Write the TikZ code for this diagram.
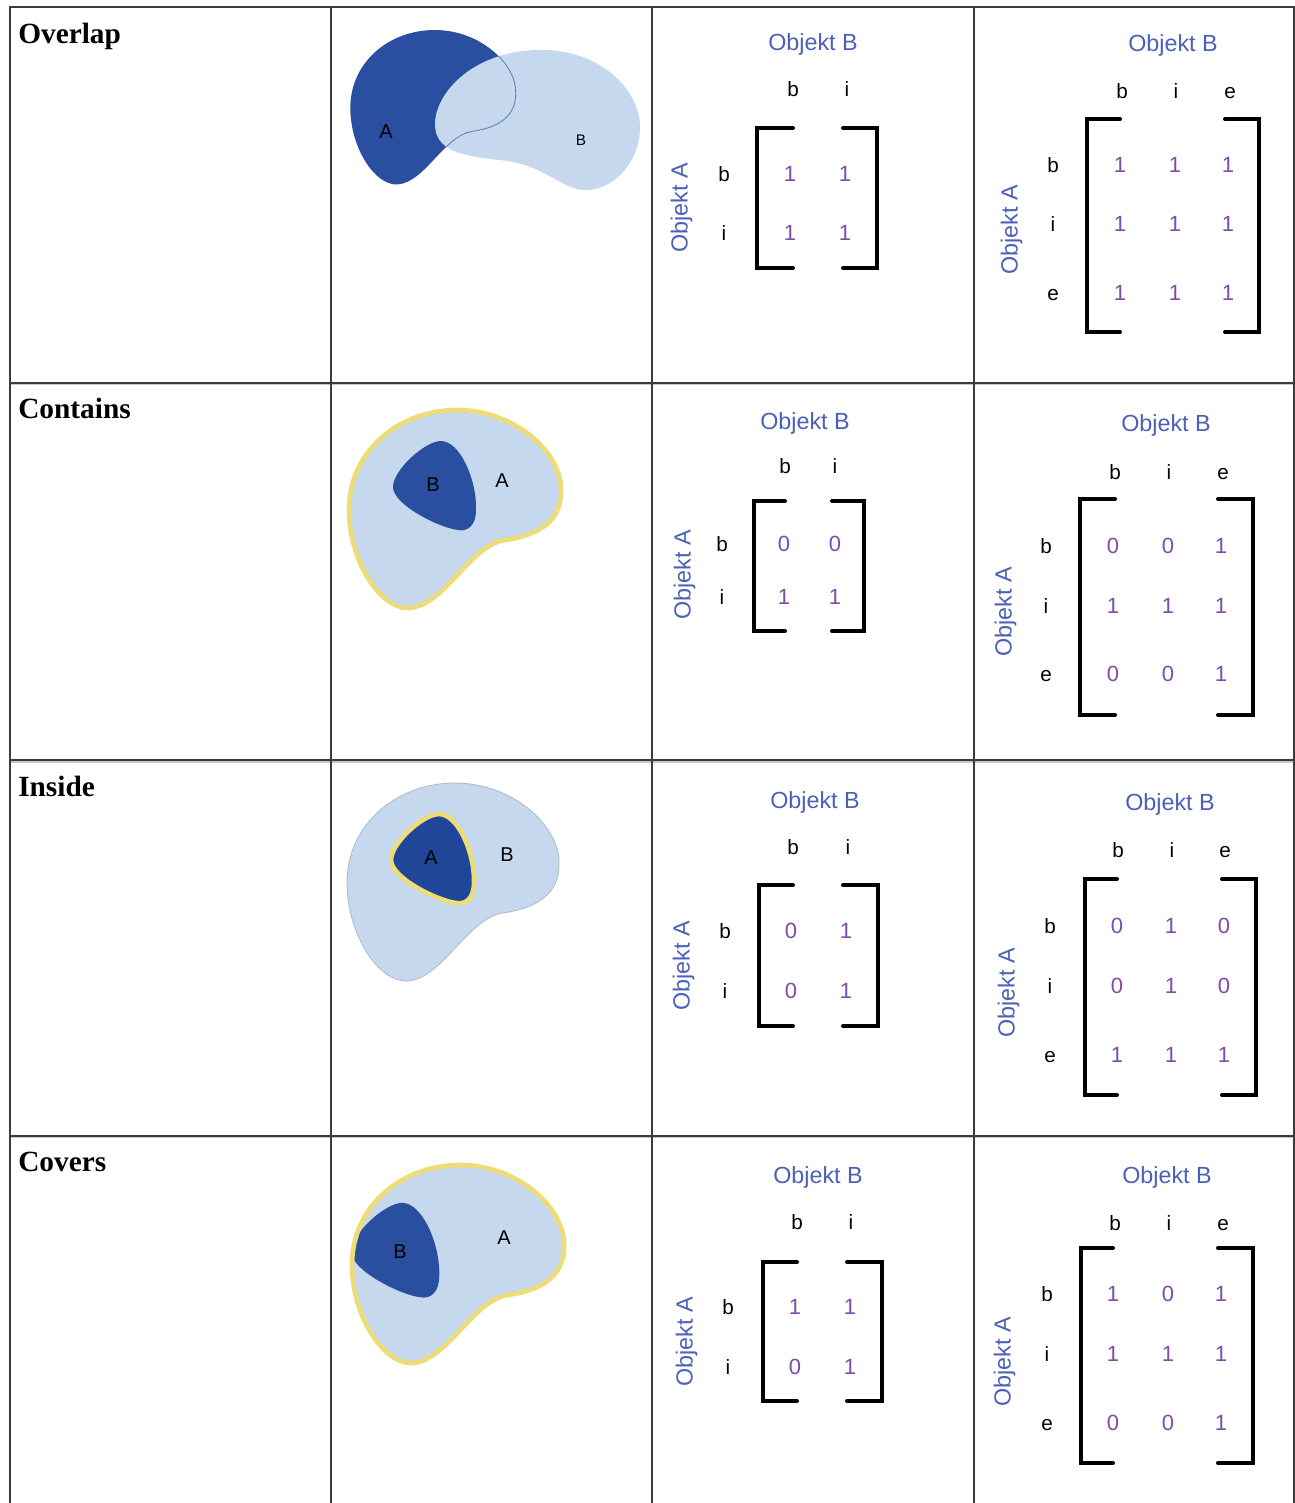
\documentclass[tikz,border=0pt]{standalone}
\usepackage{fontspec}
\setmainfont{Liberation Serif}
\setsansfont{Liberation Sans}
\definecolor{darkblob}{HTML}{2B4FA0}
\definecolor{deepblob}{HTML}{1F4699}
\definecolor{lightblob}{HTML}{C6D8EE}
\definecolor{rimyellow}{HTML}{EEDC78}
\definecolor{thinrim}{HTML}{A9BDC6}
\definecolor{innerline}{HTML}{5A78B8}
\definecolor{objblue}{HTML}{4D60B8}
\definecolor{valpurple}{HTML}{7E4CAB}
\definecolor{gridgray}{HTML}{3C3C3C}
\definecolor{gridlight}{HTML}{C8C8C8}

% kidney-shaped region, centred roughly on the origin (units are pixels)
\def\blobpath{(-106,0) .. controls (-106,-60) and (-55,-100) .. (2,-100)
  .. controls (62,-100) and (107,-55) .. (106,-20)
  .. controls (107,10) and (85,25) .. (50,30)
  .. controls (15,35) and (-10,95) .. (-45,98)
  .. controls (-75,100) and (-106,50) .. cycle}
% rounded triangle that sits inside the kidney
\def\innerpath{(-62,-23) .. controls (-62,-40) and (-30,-69) .. (-14,-69)
  .. controls (5,-69) and (22,-30) .. (21,0)
  .. controls (21,15) and (13,22) .. (3,20)
  .. controls (-15,18) and (-62,-5) .. cycle}
% horizontal bean used for B in the overlap case
\def\beanpath{(435,124) .. controls (435,95) and (470,52) .. (537,50)
  .. controls (600,48) and (640,90) .. (640,127)
  .. controls (640,165) and (610,192) .. (583,190)
  .. controls (560,188) and (545,165) .. (500,160)
  .. controls (460,156) and (435,150) .. cycle}

\newcommand\brackets[6]{%
  \draw[brk] (#2,#3) -- (#1,#3) -- (#1,#4) -- (#2,#4);
  \draw[brk] (#6,#3) -- (#5,#3) -- (#5,#4) -- (#6,#4);}

\begin{document}
\begin{tikzpicture}[x=0.75pt,y=-0.75pt,
  rowlabel/.style={font=\bfseries\fontsize{22}{25}\selectfont, anchor=base west, inner sep=0pt},
  objlbl/.style={font=\sffamily\fontsize{17.5}{19}\selectfont, text=objblue, inner sep=0pt, text height=1em, text depth=0pt},
  hdr/.style={font=\sffamily\fontsize{15.5}{18}\selectfont, inner sep=0pt, text height=1em, text depth=0pt},
  val/.style={font=\sffamily\fontsize{16.5}{18}\selectfont, text=valpurple, inner sep=0pt, text height=1em, text depth=0pt},
  setlbl/.style={font=\sffamily\fontsize{15}{18}\selectfont, inner sep=0pt, text height=1em, text depth=0pt},
  brk/.style={line width=3pt, line cap=round, line join=miter},
  grid/.style={line width=1.5pt, gridgray},
  gridsoft/.style={line width=0.8pt, gridlight}]

\useasboundingbox (0,0) rectangle (1295,1503);
\fill[white] (0,0) rectangle (1295,1503);

% ---------- table rules ----------
\foreach \yy in {384.5,762,1137.5} \draw[gridsoft] (10,\yy) -- (1293,\yy);
\foreach \xx in {9.5,330.5,652,973.5,1293.5} \draw[grid] (\xx,6) -- (\xx,1503);
\foreach \yy in {6.5,382.5,760,1135.5} \draw[grid] (9,\yy) -- (1294,\yy);

% ---------- row titles ----------
\node[rowlabel] (t-overlap) at (18,43) {Overlap};
\node[rowlabel] (t-contains) at (18,418) {Contains};
\node[rowlabel] (t-inside) at (18,796) {Inside};
\node[rowlabel] (t-covers) at (18,1171) {Covers};

% ---------- overlap sketch ----------
\begin{scope}[shift={(433,108)}, scale=0.78]
  \fill[darkblob] \blobpath;
\end{scope}
\fill[lightblob] \beanpath;
\begin{scope}
  \clip \beanpath;
  \begin{scope}[shift={(433,108)}, scale=0.78]
    \draw[innerline, line width=0.6pt] \blobpath;
  \end{scope}
\end{scope}
\node[setlbl] (ov-a) at (386,132) {A};
\node[setlbl, font=\sffamily\fontsize{11.5}{14}\selectfont] (ov-b) at (581,139) {B};

% ---------- contains sketch ----------
\begin{scope}[shift={(455,510)}]
  \fill[lightblob] \blobpath;
  \fill[darkblob] \innerpath;
  \draw[rimyellow, line width=3.5pt] \blobpath;
\end{scope}
\node[setlbl] (co-b) at (433,485) {B};
\node[setlbl] (co-a) at (502,481) {A};

% ---------- inside sketch ----------
\begin{scope}[shift={(453,883)}]
  \fill[lightblob] \blobpath;
  \draw[thinrim, line width=0.6pt] \blobpath;
  \fill[deepblob] \innerpath;
  \draw[rimyellow, line width=3.5pt] \innerpath;
\end{scope}
\node[setlbl] (in-a) at (431,858) {A};
\node[setlbl] (in-b) at (507,855) {B};

% ---------- covers sketch ----------
\begin{scope}[shift={(458,1265)}]
  \fill[lightblob] \blobpath;
  \begin{scope}
    \clip \blobpath;
    \begin{scope}[shift={(-41,11)}, scale=1.06]
      \fill[darkblob] \innerpath;
    \end{scope}
  \end{scope}
  \draw[rimyellow, line width=3.5pt] \blobpath;
\end{scope}
\node[setlbl] (cv-b) at (400,1252) {B};
\node[setlbl] (cv-a) at (504,1238) {A};

% ---------- overlap matrices ----------
\node[objlbl] (oa-B) at (813,44) {Objekt B};
\node[objlbl, rotate=90] (oa-A) at (681,208) {Objekt A};
\node[hdr] (oa-cb) at (793,90) {b};
\node[hdr] (oa-ci) at (847,90) {i};
\node[hdr] (oa-rb) at (724,175) {b};
\node[hdr] (oa-ri) at (724,234) {i};
\node[val] (oa-11) at (790,175) {1};
\node[val] (oa-12) at (845,175) {1};
\node[val] (oa-21) at (790,234) {1};
\node[val] (oa-22) at (845,234) {1};
\brackets{757}{793}{128}{268}{877}{843}

\node[objlbl] (ob-B) at (1173,45) {Objekt B};
\node[objlbl, rotate=90] (ob-A) at (1011,230) {Objekt A};
\node[hdr] (ob-cb) at (1122,92) {b};
\node[hdr] (ob-ci) at (1176,92) {i};
\node[hdr] (ob-ce) at (1230,92) {e};
\node[hdr] (ob-rb) at (1053,166) {b};
\node[hdr] (ob-ri) at (1053,225) {i};
\node[hdr] (ob-re) at (1053,294) {e};
\node[val] (ob-11) at (1120,166) {1};
\node[val] (ob-12) at (1175,166) {1};
\node[val] (ob-13) at (1228,166) {1};
\node[val] (ob-21) at (1120,225) {1};
\node[val] (ob-22) at (1175,225) {1};
\node[val] (ob-23) at (1228,225) {1};
\node[val] (ob-31) at (1120,294) {1};
\node[val] (ob-32) at (1175,294) {1};
\node[val] (ob-33) at (1228,294) {1};
\brackets{1087}{1120}{119}{332}{1259}{1225}

% ---------- contains matrices ----------
\node[objlbl] (ca-B) at (805,423) {Objekt B};
\node[objlbl, rotate=90] (ca-A) at (684,575) {Objekt A};
\node[hdr] (ca-cb) at (785,467) {b};
\node[hdr] (ca-ci) at (835,467) {i};
\node[hdr] (ca-rb) at (722,545) {b};
\node[hdr] (ca-ri) at (722,598) {i};
\node[val] (ca-11) at (784,545) {0};
\node[val] (ca-12) at (835,545) {0};
\node[val] (ca-21) at (784,598) {1};
\node[val] (ca-22) at (835,598) {1};
\brackets{754}{785}{501}{631}{864}{832}

\node[objlbl] (cb-B) at (1166,425) {Objekt B};
\node[objlbl, rotate=90] (cb-A) at (1005,612) {Objekt A};
\node[hdr] (cb-cb) at (1115,473) {b};
\node[hdr] (cb-ci) at (1169,473) {i};
\node[hdr] (cb-ce) at (1223,473) {e};
\node[hdr] (cb-rb) at (1046,547) {b};
\node[hdr] (cb-ri) at (1046,607) {i};
\node[hdr] (cb-re) at (1046,675) {e};
\node[val] (cb-11) at (1113,547) {0};
\node[val] (cb-12) at (1168,547) {0};
\node[val] (cb-13) at (1221,547) {1};
\node[val] (cb-21) at (1113,607) {1};
\node[val] (cb-22) at (1168,607) {1};
\node[val] (cb-23) at (1221,607) {1};
\node[val] (cb-31) at (1113,675) {0};
\node[val] (cb-32) at (1168,675) {0};
\node[val] (cb-33) at (1221,675) {1};
\brackets{1080}{1115}{499}{715}{1253}{1218}

% ---------- inside matrices ----------
\node[objlbl] (ia-B) at (815,802) {Objekt B};
\node[objlbl, rotate=90] (ia-A) at (683,966) {Objekt A};
\node[hdr] (ia-cb) at (793,848) {b};
\node[hdr] (ia-ci) at (848,848) {i};
\node[hdr] (ia-rb) at (725,932) {b};
\node[hdr] (ia-ri) at (725,992) {i};
\node[val] (ia-11) at (791,932) {0};
\node[val] (ia-12) at (846,932) {1};
\node[val] (ia-21) at (791,992) {0};
\node[val] (ia-22) at (846,992) {1};
\brackets{759}{793}{885}{1026}{878}{843}

\node[objlbl] (ib-B) at (1170,804) {Objekt B};
\node[objlbl, rotate=90] (ib-A) at (1008,993) {Objekt A};
\node[hdr] (ib-cb) at (1118,851) {b};
\node[hdr] (ib-ci) at (1172,851) {i};
\node[hdr] (ib-ce) at (1225,851) {e};
\node[hdr] (ib-rb) at (1050,927) {b};
\node[hdr] (ib-ri) at (1050,987) {i};
\node[hdr] (ib-re) at (1050,1056) {e};
\node[val] (ib-11) at (1117,927) {0};
\node[val] (ib-12) at (1171,927) {1};
\node[val] (ib-13) at (1224,927) {0};
\node[val] (ib-21) at (1117,987) {0};
\node[val] (ib-22) at (1171,987) {1};
\node[val] (ib-23) at (1224,987) {0};
\node[val] (ib-31) at (1117,1056) {1};
\node[val] (ib-32) at (1171,1056) {1};
\node[val] (ib-33) at (1224,1056) {1};
\brackets{1085}{1117}{879}{1095}{1256}{1222}

% ---------- covers matrices ----------
\node[objlbl] (va-B) at (818,1177) {Objekt B};
\node[objlbl, rotate=90] (va-A) at (686,1342) {Objekt A};
\node[hdr] (va-cb) at (797,1223) {b};
\node[hdr] (va-ci) at (851,1223) {i};
\node[hdr] (va-rb) at (728,1308) {b};
\node[hdr] (va-ri) at (728,1368) {i};
\node[val] (va-11) at (795,1308) {1};
\node[val] (va-12) at (850,1308) {1};
\node[val] (va-21) at (795,1368) {0};
\node[val] (va-22) at (850,1368) {1};
\brackets{763}{797}{1262}{1401}{882}{847}

\node[objlbl] (vb-B) at (1167,1177) {Objekt B};
\node[objlbl, rotate=90] (vb-A) at (1004,1362) {Objekt A};
\node[hdr] (vb-cb) at (1115,1224) {b};
\node[hdr] (vb-ci) at (1169,1224) {i};
\node[hdr] (vb-ce) at (1223,1224) {e};
\node[hdr] (vb-rb) at (1047,1295) {b};
\node[hdr] (vb-ri) at (1047,1355) {i};
\node[hdr] (vb-re) at (1047,1424) {e};
\node[val] (vb-11) at (1113,1295) {1};
\node[val] (vb-12) at (1168,1295) {0};
\node[val] (vb-13) at (1221,1295) {1};
\node[val] (vb-21) at (1113,1355) {1};
\node[val] (vb-22) at (1168,1355) {1};
\node[val] (vb-23) at (1221,1355) {1};
\node[val] (vb-31) at (1113,1424) {0};
\node[val] (vb-32) at (1168,1424) {0};
\node[val] (vb-33) at (1221,1424) {1};
\brackets{1081}{1113}{1248}{1463}{1253}{1218}

\end{tikzpicture}
\end{document}
